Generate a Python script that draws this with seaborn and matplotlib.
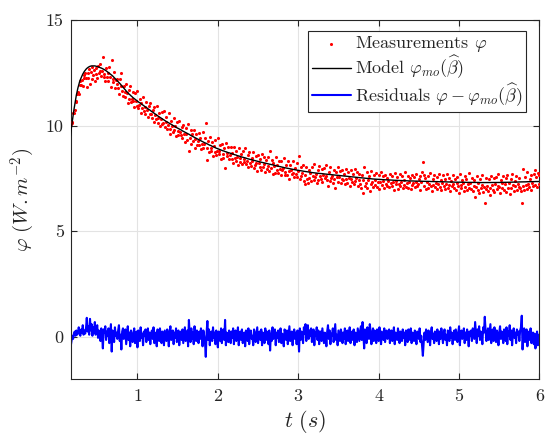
import numpy as np
import pandas as pd
import matplotlib
matplotlib.use("Agg")
import matplotlib.pyplot as plt
import seaborn as sns

# ---- data ----
t_start = 0.16
t_step = 0.01

# fitted model curve, one value per sample (rows of 0.2 s)
model = [
    9.30, 9.63, 9.95, 10.23, 10.50, 10.76, 11.00, 11.23, 11.45, 11.63, 11.80, 11.95, 12.08, 12.19, 12.28, 12.37, 12.45, 12.52, 12.58, 12.63,
    12.68, 12.72, 12.75, 12.78, 12.80, 12.82, 12.83, 12.84, 12.84, 12.84, 12.84, 12.84, 12.83, 12.82, 12.81, 12.80, 12.78, 12.77, 12.75, 12.74,
    12.72, 12.70, 12.68, 12.66, 12.63, 12.61, 12.58, 12.55, 12.52, 12.49, 12.46, 12.43, 12.40, 12.37, 12.33, 12.29, 12.25, 12.21, 12.17, 12.13,
    12.09, 12.05, 12.01, 11.97, 11.92, 11.88, 11.83, 11.79, 11.74, 11.70, 11.65, 11.61, 11.57, 11.53, 11.49, 11.46, 11.42, 11.39, 11.35, 11.32,
    11.29, 11.26, 11.23, 11.20, 11.17, 11.14, 11.11, 11.09, 11.06, 11.03, 11.00, 10.98, 10.95, 10.92, 10.89, 10.87, 10.84, 10.81, 10.78, 10.76,
    10.73, 10.70, 10.67, 10.65, 10.62, 10.59, 10.56, 10.54, 10.51, 10.48, 10.45, 10.43, 10.40, 10.38, 10.35, 10.33, 10.30, 10.28, 10.25, 10.23,
    10.20, 10.18, 10.16, 10.14, 10.11, 10.09, 10.07, 10.05, 10.02, 10.00, 9.98, 9.96, 9.93, 9.91, 9.89, 9.87, 9.85, 9.83, 9.81, 9.79,
    9.76, 9.74, 9.72, 9.70, 9.68, 9.66, 9.64, 9.62, 9.60, 9.58, 9.55, 9.53, 9.51, 9.49, 9.47, 9.45, 9.43, 9.41, 9.39, 9.37,
    9.35, 9.33, 9.31, 9.29, 9.27, 9.25, 9.23, 9.21, 9.19, 9.18, 9.16, 9.14, 9.12, 9.10, 9.08, 9.07, 9.05, 9.03, 9.01, 9.00,
    8.98, 8.96, 8.94, 8.93, 8.91, 8.90, 8.88, 8.87, 8.85, 8.84, 8.82, 8.81, 8.80, 8.78, 8.77, 8.76, 8.74, 8.73, 8.72, 8.71,
    8.69, 8.68, 8.67, 8.66, 8.64, 8.63, 8.62, 8.61, 8.59, 8.58, 8.57, 8.56, 8.54, 8.53, 8.52, 8.51, 8.50, 8.49, 8.48, 8.47,
    8.45, 8.44, 8.43, 8.42, 8.41, 8.40, 8.39, 8.38, 8.37, 8.36, 8.35, 8.34, 8.33, 8.32, 8.31, 8.30, 8.29, 8.28, 8.27, 8.265,
    8.26, 8.25, 8.24, 8.23, 8.22, 8.21, 8.20, 8.19, 8.18, 8.175, 8.17, 8.16, 8.15, 8.14, 8.13, 8.12, 8.11, 8.10, 8.09, 8.085,
    8.08, 8.07, 8.06, 8.05, 8.04, 8.03, 8.02, 8.015, 8.01, 8.00, 7.99, 7.985, 7.98, 7.97, 7.96, 7.955, 7.95, 7.94, 7.93, 7.925,
    7.92, 7.91, 7.90, 7.895, 7.89, 7.885, 7.88, 7.875, 7.87, 7.86, 7.85, 7.845, 7.84, 7.835, 7.83, 7.825, 7.82, 7.815, 7.81, 7.80,
    7.79, 7.785, 7.78, 7.775, 7.77, 7.765, 7.76, 7.755, 7.75, 7.745, 7.74, 7.74, 7.74, 7.735, 7.73, 7.725, 7.72, 7.715, 7.71, 7.705,
    7.70, 7.70, 7.70, 7.695, 7.69, 7.685, 7.68, 7.675, 7.67, 7.665, 7.66, 7.66, 7.66, 7.655, 7.65, 7.645, 7.64, 7.635, 7.63, 7.625,
    7.62, 7.62, 7.62, 7.615, 7.61, 7.605, 7.60, 7.595, 7.59, 7.585, 7.58, 7.58, 7.58, 7.575, 7.57, 7.565, 7.56, 7.555, 7.55, 7.545,
    7.54, 7.54, 7.54, 7.535, 7.53, 7.525, 7.52, 7.515, 7.51, 7.51, 7.51, 7.505, 7.50, 7.495, 7.49, 7.485, 7.48, 7.48, 7.48, 7.475,
    7.47, 7.47, 7.47, 7.465, 7.46, 7.46, 7.46, 7.455, 7.45, 7.45, 7.45, 7.445, 7.44, 7.44, 7.44, 7.44, 7.44, 7.435, 7.43, 7.43,
    7.43, 7.425, 7.42, 7.42, 7.42, 7.42, 7.42, 7.415, 7.41, 7.41, 7.41, 7.41, 7.41, 7.405, 7.40, 7.40, 7.40, 7.40, 7.40, 7.395,
    7.39, 7.39, 7.39, 7.39, 7.39, 7.39, 7.39, 7.385, 7.38, 7.38, 7.38, 7.38, 7.38, 7.38, 7.38, 7.38, 7.38, 7.375, 7.37, 7.37,
    7.37, 7.37, 7.37, 7.37, 7.37, 7.37, 7.37, 7.365, 7.36, 7.36, 7.36, 7.36, 7.36, 7.36, 7.36, 7.36, 7.36, 7.355, 7.35, 7.35,
    7.35, 7.35, 7.35, 7.35, 7.35, 7.35, 7.35, 7.345, 7.34, 7.34, 7.34, 7.34, 7.34, 7.34, 7.34, 7.34, 7.34, 7.335, 7.33, 7.33,
    7.33, 7.33, 7.33, 7.33, 7.33, 7.33, 7.33, 7.33, 7.33, 7.33, 7.33, 7.325, 7.32, 7.32, 7.32, 7.32, 7.32, 7.32, 7.32, 7.32,
    7.32, 7.32, 7.32, 7.32, 7.32, 7.32, 7.32, 7.32, 7.32, 7.315, 7.31, 7.31, 7.31, 7.31, 7.31, 7.31, 7.31, 7.31, 7.31, 7.31,
    7.31, 7.31, 7.31, 7.31, 7.31, 7.31, 7.31, 7.31, 7.31, 7.31, 7.31, 7.31, 7.31, 7.31, 7.31, 7.315, 7.32, 7.32, 7.32, 7.32,
    7.32, 7.32, 7.32, 7.32, 7.32, 7.32, 7.32, 7.325, 7.33, 7.33, 7.33, 7.33, 7.33, 7.33, 7.33, 7.33, 7.33, 7.335, 7.34, 7.34,
    7.34, 7.34, 7.34, 7.34, 7.34, 7.34, 7.34, 7.345, 7.35, 7.35, 7.35, 7.35, 7.35, 7.35, 7.35, 7.35, 7.35, 7.355, 7.36, 7.36,
    7.36, 7.36, 7.36, 7.36, 7.36,
]

# plotted residual trace (model minus measurement), one value per sample
residuals = [
    -0.75, -0.45, -0.20, 0.05, -0.10, 0.15, 0.25, 0.05, 0.30, 0.10, 0.20, 0.45, 0.15, 0.05, 0.35, 0.20, 0.55, 0.10, 0.30, 0.15,
    0.40, 0.90, 0.25, 0.50, 0.10, 0.85, 0.30, 0.60, 0.05, 0.45, 0.20, 0.70, 0.10, 0.35, 0.55, -0.05, 0.30, 0.15, -0.20, 0.40,
    0.10, -0.55, 0.35, 0.20, 0.50, -0.15, 0.25, 0.05, 0.40, -0.30, 0.15, 0.60, -0.70, 0.30, 0.10, -0.25, 0.45, 0.05, 0.20, -0.10,
    0.30, 0.55, -0.20, 0.10, -0.60, 0.25, 0.40, -0.10, 0.15, 0.35, -0.35, 0.05, 0.50, -0.15, 0.20, -0.45, 0.30, 0.10, -0.25, 0.15,
    0.40, -0.30, 0.05, 0.25, -0.50, 0.30, 0.10, -0.20, 0.45, -0.05, 0.15, -0.40, 0.25, 0.05, 0.35, -0.25, 0.10, 0.40, -0.15, 0.20,
    -0.35, 0.15, 0.30, -0.10, 0.45, -0.30, 0.05, 0.20, -0.45, 0.35, 0.10, -0.20, 0.40, 0.05, -0.30, 0.25, 0.15, -0.40, 0.30, 0.05,
    -0.20, 0.35, 0.10, -0.45, 0.25, 0.50, -0.15, 0.05, 0.30, -0.35, 0.20, -0.05, 0.40, -0.25, 0.15, 0.30, -0.40, 0.10, 0.25, -0.15,
    0.35, -0.30, 0.10, 0.45, -0.20, 0.05, 0.30, -0.45, 0.80, 0.15, -0.25, 0.40, -0.10, 0.20, -0.35, 0.50, 0.05, -0.20, 0.30, 0.10,
    -0.30, 0.25, -0.10, 0.40, 0.15, -0.45, 0.30, 0.05, -0.25, -0.95, 0.20, 0.75, -0.15, 0.35, -0.40, 0.10, 0.25, -0.20, 0.45, -0.05,
    0.20, -0.35, 0.30, 0.10, -0.50, 0.25, 0.05, -0.20, 0.40, -0.30, 0.15, 0.35, -0.15, 0.80, -0.40, 0.20, 0.05, -0.25, 0.30, 0.10,
    -0.30, 0.25, -0.05, 0.40, -0.35, 0.15, 0.30, -0.20, 0.05, 0.45, -0.40, 0.10, 0.25, -0.15, 0.35, -0.30, 0.05, 0.20, -0.45, 0.30,
    0.10, -0.20, 0.40, -0.35, 0.15, 0.30, -0.10, 0.05, -0.40, 0.35, 0.20, -0.25, 0.10, 0.45, -0.30, 0.05, 0.25, -0.15, 0.35, -0.40,
    0.20, 0.05, -0.30, 0.40, -0.15, 0.25, 0.10, -0.35, 0.30, -0.65, 0.15, -0.20, 0.45, -0.10, 0.05, 0.35, -0.40, 0.20, -0.05, 0.30,
    -0.25, 0.10, 0.40, -0.30, 0.15, 0.05, -0.45, 0.35, 0.20, -0.15, 0.30, -0.35, 0.10, 0.50, -0.20, 0.05, 0.25, -0.40, 0.15, 0.35,
    -0.10, 0.20, -0.35, 0.30, 0.05, -0.70, 0.40, -0.15, 0.25, 0.10, -0.30, 0.45, 0.15, 0.60, -0.20, 0.35, 0.55, -0.10, 0.30, 0.05,
    0.40, -0.25, 0.15, 0.35, -0.40, 0.20, 0.05, 0.45, -0.15, 0.30, -0.35, 0.10, 0.25, -0.20, 0.40, 0.05, -0.30, 0.20, 0.10, -0.45,
    0.25, 0.55, -0.10, 0.30, -0.35, 0.15, 0.05, 0.40, -0.25, 0.20, 0.60, -0.15, 0.10, -0.40, 0.30, 0.05, -0.20, 0.35, 0.15, -0.30,
    0.20, -0.10, 0.40, -0.35, 0.15, 0.30, -0.20, 0.05, 0.45, -0.30, 0.10, 0.25, -0.15, 0.35, -0.40, 0.20, 0.05, -0.25, 0.40, 0.10,
    -0.20, 0.30, 0.50, -0.15, 0.70, 0.10, -0.55, 0.35, 0.20, -0.30, 0.45, 0.05, -0.10, 0.60, 0.25, -0.35, 0.15, 0.40, -0.20, 0.30,
    0.05, -0.30, 0.35, 0.15, -0.20, 0.45, 0.10, -0.35, 0.25, 0.05, -0.15, 0.40, -0.25, 0.20, 0.30, -0.10, 0.05, 0.35, -0.30, 0.15,
    0.30, -0.20, 0.10, 0.45, -0.35, 0.20, 0.05, -0.15, 0.40, 0.15, -0.30, 0.25, 0.05, -0.20, 0.35, -0.05, 0.20, -0.40, 0.30, 0.10,
    -0.25, 0.35, 0.05, -0.15, 0.40, -0.30, 0.20, 0.10, -0.20, 0.30, 0.05, -0.35, 0.25, 0.15, -0.10, 0.40, -0.25, 0.05, -0.45, -0.90,
    -0.30, 0.20, -0.15, 0.35, 0.05, -0.25, 0.30, 0.10, -0.40, 0.20, 0.45, -0.10, 0.15, -0.30, 0.25, 0.05, -0.20, 0.35, 0.10, -0.35,
    0.25, -0.10, 0.40, 0.05, -0.30, 0.20, 0.35, -0.15, 0.10, -0.40, 0.30, 0.15, -0.20, 0.45, -0.05, 0.20, -0.35, 0.10, 0.30, -0.15,
    0.35, 0.05, -0.25, 0.20, 0.50, -0.40, 0.15, 0.30, -0.10, 0.05, 0.40, -0.30, 0.20, -0.15, 0.35, 0.10, -0.45, 0.25, 0.05, 0.30,
    -0.20, 0.40, 0.15, -0.10, 0.70, 0.20, -0.30, 0.35, 0.05, 0.50, -0.15, 0.25, 0.10, -0.35, 0.45, 0.20, 0.95, 0.30, -0.20, 0.15,
    0.40, -0.15, 0.25, 0.60, -0.30, 0.10, 0.35, -0.20, 0.45, 0.05, -0.25, 0.30, 0.15, -0.40, 0.20, 0.50, -0.10, 0.25, 0.05, -0.30,
    0.35, 0.10, -0.20, 0.45, -0.35, 0.25, 0.05, 0.55, -0.15, 0.30, -0.40, 0.15, 0.40, -0.05, 0.20, -0.30, 0.35, 0.10, 0.25, -0.20,
    0.30, 0.45, 1.00, -0.60, 0.20, 0.40, -0.25, 0.15, 0.35, -0.45, 0.10, 0.25, -0.15, 0.40, -0.30, 0.05, 0.20, -0.35, 0.15, -0.55,
    -0.20, 0.25, -0.40, 0.10, -0.30,
]

x_ticks = [1, 2, 3, 4, 5, 6]
y_ticks = [0, 5, 10, 15]

labels = [r"Measurements $\varphi$",
          r"Model $\varphi_{mo}(\widehat{\beta})$",
          r"Residuals $\varphi - \varphi_{mo}(\widehat{\beta})$"]

# ---- build table ----
n = min(len(model), len(residuals))
t = t_start + t_step * np.arange(n)
df = pd.DataFrame({"t": t,
                   "model": np.array(model[:n]),
                   "resid": np.array(residuals[:n])})
df["meas"] = df["model"] - df["resid"]

# ---- style ----
sns.set_style("ticks")
plt.rcParams.update({
    "font.family": "serif",
    "font.serif": ["cmr10", "DejaVu Serif"],
    "mathtext.fontset": "cm",
    "axes.unicode_minus": False,
    "axes.formatter.use_mathtext": True,
})

fig = plt.figure(figsize=(5.46, 4.37), dpi=100)
ax = fig.add_axes([0.1295, 0.1327, 0.8585, 0.8208])

sns.scatterplot(data=df, x="t", y="meas", ax=ax, color="red", s=5,
                linewidth=0, label=labels[0], zorder=3)
sns.lineplot(data=df, x="t", y="model", ax=ax, color="black", lw=1.0,
             label=labels[1], zorder=4)
sns.lineplot(data=df, x="t", y="resid", ax=ax, color="blue", lw=1.5,
             label=labels[2], zorder=2)

ax.set_xlim(0.17, 6)
ax.set_ylim(-2, 15)
ax.set_xticks(x_ticks)
ax.set_yticks(y_ticks)
ax.set_xticklabels([str(v) for v in x_ticks])
ax.set_yticklabels([str(v) for v in y_ticks])
ax.tick_params(direction="in", length=4, width=0.8, colors="#262626",
               labelsize=13, top=True, right=True, labelcolor="#262626")
ax.tick_params(axis="x", pad=7)
ax.tick_params(axis="y", pad=5)
ax.grid(True, color="#e3e3e3", lw=0.8)
ax.set_axisbelow(True)
for s in ax.spines.values():
    s.set_color("#262626")
    s.set_linewidth(0.8)

ax.set_xlabel(r"$t\ (s)$", fontsize=16, color="#262626", labelpad=3)
ax.set_ylabel(r"$\varphi\ (W.m^{-2})$", fontsize=15, color="#262626", labelpad=6)

leg = ax.legend(loc="upper right", bbox_to_anchor=(0.971, 0.971),
                borderaxespad=0, fontsize=13, frameon=True, fancybox=False,
                framealpha=1, edgecolor="#262626", borderpad=0.2,
                labelspacing=0.0, handlelength=2.2, handletextpad=0.2,
                markerscale=1.0)
leg.get_frame().set_linewidth(0.8)

fig.savefig("out.png", dpi=100)
